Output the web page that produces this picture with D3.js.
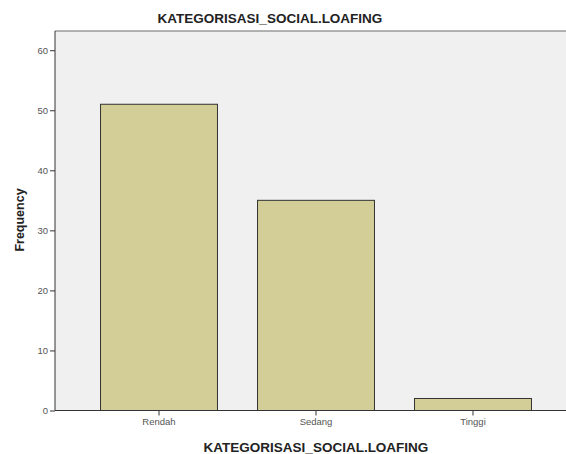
<!DOCTYPE html>
<html><head><meta charset="utf-8">
<script src="https://cdn.jsdelivr.net/npm/d3@7"></script>
<style>body{margin:0;background:#fff;}svg{display:block;}</style>
</head><body>
<svg id="c" width="566" height="454"></svg>
<script>
const categories = ["Rendah", "Sedang", "Tinggi"];
const frequencies = [51, 35, 2];
const yTicks = [0, 10, 20, 30, 40, 50, 60];
const title = "KATEGORISASI_SOCIAL.LOAFING";
const yTitle = "Frequency";

const svg = d3.select("#c");
const L = 55, R = 566, T = 31, B = 410.5;
const x = d3.scaleBand().domain(categories).range([L, 577]).paddingInner(0.255).paddingOuter(0.29);
const y = d3.scaleLinear().domain([0, 63.2]).range([B, T]);

svg.append("rect").attr("x", L).attr("y", T).attr("width", R - L).attr("height", B - T).attr("fill", "#f0f0f0");
svg.append("line").attr("x1", L).attr("x2", R).attr("y1", T).attr("y2", T).attr("stroke", "#9a9a9a").attr("stroke-width", 1.5);

svg.selectAll("rect.bar").data(frequencies).join("rect").attr("class", "bar")
  .attr("x", (d, i) => x(categories[i]))
  .attr("y", d => y(d))
  .attr("width", x.bandwidth())
  .attr("height", d => B - y(d))
  .attr("fill", "#d3ce97").attr("stroke", "#333").attr("stroke-width", 1);

const ya = svg.append("g").attr("transform", `translate(${L},0)`)
  .call(d3.axisLeft(y).tickValues(yTicks).tickSize(5).tickPadding(2).tickFormat(d3.format("d")));
ya.select(".domain").attr("d", `M0,${T}V${B}`).attr("stroke", "#333");
ya.selectAll(".tick line").attr("stroke", "#333");
ya.selectAll("text").attr("font-family", "Liberation Sans, Arial, sans-serif").attr("font-size", 9.5).attr("fill", "#555");

const xa = svg.append("g").attr("transform", `translate(0,${B})`)
  .call(d3.axisBottom(x).tickSize(5).tickPadding(3));
xa.select(".domain").attr("d", `M${L},0H${R}`).attr("stroke", "#333");
xa.selectAll(".tick line").attr("stroke", "#333");
xa.selectAll("text").attr("font-family", "Liberation Sans, Arial, sans-serif").attr("font-size", 9.5).attr("fill", "#555");

svg.append("text").attr("x", 270).attr("y", 23).attr("text-anchor", "middle")
  .attr("font-family", "Liberation Sans, Arial, sans-serif").attr("font-weight", "bold").attr("font-size", 13.5).attr("fill", "#222").text(title);
svg.append("text").attr("x", 316).attr("y", 452).attr("text-anchor", "middle")
  .attr("font-family", "Liberation Sans, Arial, sans-serif").attr("font-weight", "bold").attr("font-size", 13.5).attr("fill", "#222").text(title);
svg.append("text").attr("transform", "translate(24,220) rotate(-90)").attr("text-anchor", "middle")
  .attr("font-family", "Liberation Sans, Arial, sans-serif").attr("font-weight", "bold").attr("font-size", 12.5).attr("fill", "#222").text(yTitle);
</script>
</body></html>
